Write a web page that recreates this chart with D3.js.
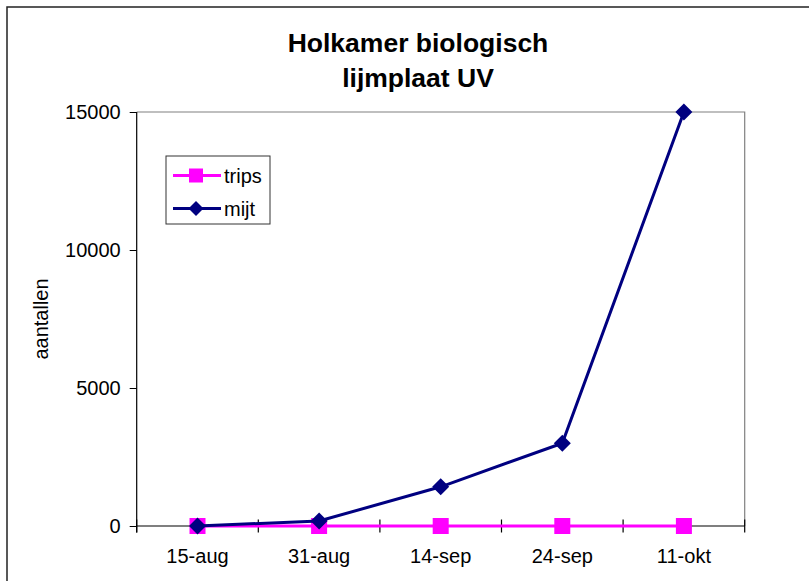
<!DOCTYPE html>
<html>
<head>
<meta charset="utf-8">
<script src="https://cdn.jsdelivr.net/npm/d3@7"></script>
<style>
  html, body { margin: 0; padding: 0; background: #fff; }
  svg { display: block; }
  text { font-family: "Liberation Sans", Arial, sans-serif; fill: #000; }
</style>
</head>
<body>
<svg id="chart" width="809" height="581"></svg>
<script>
const categories = ["15-aug", "31-aug", "14-sep", "24-sep", "11-okt"];
const tripsValues = [0, 0, 0, 0, 0];
const mijtValues = [0, 180, 1420, 3000, 15000];
const yTicks = [0, 5000, 10000, 15000];
const titleLines = ["Holkamer biologisch", "lijmplaat UV"];
const yLabel = "aantallen";
const seriesNames = ["trips", "mijt"];

const svg = d3.select("#chart");
const plot = { left: 136.7, right: 744.7, top: 112, bottom: 526 };
const FS = 20;

// outer chart border (extends beyond the picture on right/bottom)
svg.append("rect")
  .attr("x", 7).attr("y", 7).attr("width", 820).attr("height", 600)
  .attr("fill", "#fff").attr("stroke", "#222").attr("stroke-width", 1.5);

const x = d3.scaleBand().domain(categories).range([plot.left, plot.right]).padding(0);
const xc = d => x(d) + x.bandwidth() / 2;
const y = d3.scaleLinear().domain([0, 15000]).range([plot.bottom, plot.top]);

// plot area border (top and right grey)
svg.append("path")
  .attr("d", `M${plot.left},${plot.top}H${plot.right}V${plot.bottom}`)
  .attr("fill", "none").attr("stroke", "#808080").attr("stroke-width", 1.2);

// Y axis
const yAxis = d3.axisLeft(y).tickValues(yTicks).tickSize(7).tickPadding(9).tickFormat(d3.format("d"));
const gy = svg.append("g").attr("transform", `translate(${plot.left},0)`).call(yAxis);
gy.select(".domain").remove();
gy.selectAll(".tick line").attr("stroke", "#000");
gy.selectAll(".tick text").attr("font-size", FS).attr("font-family", '"Liberation Sans", Arial, sans-serif').attr("fill", "#000");
svg.append("line")
  .attr("x1", plot.left).attr("x2", plot.left)
  .attr("y1", plot.top).attr("y2", plot.bottom + 6.5)
  .attr("stroke", "#000").attr("stroke-width", 1.2);

// X axis
svg.append("line")
  .attr("x1", plot.left).attr("x2", plot.right)
  .attr("y1", plot.bottom).attr("y2", plot.bottom)
  .attr("stroke", "#000").attr("stroke-width", 1.2);
const boundaries = categories.map(c => x(c)).concat([x(categories[categories.length - 1]) + x.bandwidth()]);
svg.append("g").selectAll("line").data(boundaries).join("line")
  .attr("x1", d => d).attr("x2", d => d)
  .attr("y1", plot.bottom - 6.5).attr("y2", plot.bottom + 6.5)
  .attr("stroke", "#000").attr("stroke-width", 1.2);
svg.append("g").selectAll("text").data(categories).join("text")
  .attr("x", d => xc(d)).attr("y", 563)
  .attr("text-anchor", "middle").attr("font-size", FS)
  .text(d => d);

// Title
svg.append("g").selectAll("text").data(titleLines).join("text")
  .attr("x", 418).attr("y", (d, i) => 52 + i * 35)
  .attr("text-anchor", "middle").attr("font-size", 26.5).attr("font-weight", "bold")
  .text(d => d);

// Y label
svg.append("text")
  .attr("transform", "translate(48,319) rotate(-90)")
  .attr("text-anchor", "middle").attr("font-size", FS)
  .text(yLabel);

const line = d3.line().x((d, i) => xc(categories[i])).y(d => y(d));

// trips series
svg.append("path").datum(tripsValues)
  .attr("d", line).attr("fill", "none").attr("stroke", "#FF00FF").attr("stroke-width", 3);
svg.append("g").selectAll("rect").data(tripsValues).join("rect")
  .attr("x", (d, i) => xc(categories[i]) - 8).attr("y", d => y(d) - 8)
  .attr("width", 16).attr("height", 16).attr("fill", "#FF00FF");

// mijt series
const diamond = (cx, cy, r) => `M${cx},${cy - r}L${cx + r},${cy}L${cx},${cy + r}L${cx - r},${cy}Z`;
svg.append("path").datum(mijtValues)
  .attr("d", line).attr("fill", "none").attr("stroke", "#000080").attr("stroke-width", 3);
svg.append("g").selectAll("path").data(mijtValues).join("path")
  .attr("d", (d, i) => diamond(xc(categories[i]), y(d), 8.5)).attr("fill", "#000080");

// Legend
const lg = svg.append("g");
lg.append("rect").attr("x", 166).attr("y", 156).attr("width", 104).attr("height", 68)
  .attr("fill", "#fff").attr("stroke", "#333").attr("stroke-width", 1);
const legendRows = [
  { name: seriesNames[0], color: "#FF00FF", shape: "square", cy: 175.5 },
  { name: seriesNames[1], color: "#000080", shape: "diamond", cy: 208.5 }
];
legendRows.forEach(r => {
  lg.append("line").attr("x1", 173).attr("x2", 221).attr("y1", r.cy).attr("y2", r.cy)
    .attr("stroke", r.color).attr("stroke-width", 3);
  if (r.shape === "square") {
    lg.append("rect").attr("x", 196 - 7).attr("y", r.cy - 7).attr("width", 14).attr("height", 14).attr("fill", r.color);
  } else {
    lg.append("path").attr("d", diamond(196, r.cy, 7.5)).attr("fill", r.color);
  }
  lg.append("text").attr("x", 224).attr("y", r.cy).attr("dy", "0.35em").attr("font-size", FS).text(r.name);
});
</script>
</body>
</html>
